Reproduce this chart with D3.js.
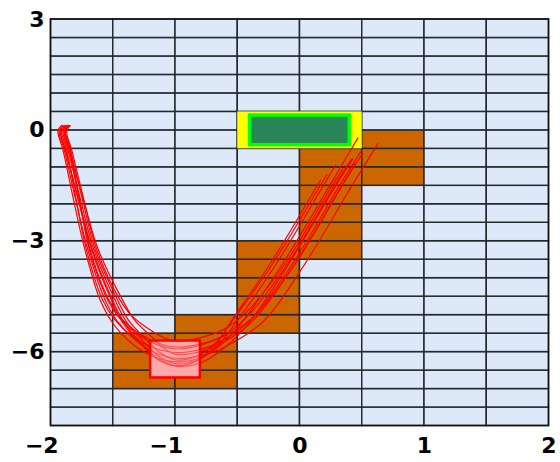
<!DOCTYPE html>
<html>
<head>
<meta charset="utf-8">
<script src="https://cdn.jsdelivr.net/npm/d3@7"></script>
<style>
  html, body { margin: 0; padding: 0; background: #ffffff; }
  svg { display: block; }
</style>
</head>
<body>
<script>
// ---- data ----
const xTicks = [-2, -1, 0, 1, 2];
const yTicks = [3, 0, -3, -6];
const xDomain = [-2, 2];
const yDomain = [-8, 3];
const cellSize = 0.5;
// lower-left corners of obstacle cells
const obstacleCells = [
  [0.5, -0.5], [0.5, -1], [0.5, -1.5],
  [0, -1], [0, -1.5], [0, -2], [0, -2.5], [0, -3], [0, -3.5],
  [-0.5, -3.5], [-0.5, -4], [-0.5, -4.5], [-0.5, -5], [-0.5, -5.5],
  [-1, -5.5], [-1, -6], [-1, -6.5], [-1, -7],
  [-1.5, -6], [-1.5, -6.5], [-1.5, -7]
];
// regions: [x0, x1, y0, y1]
const startZone = [-0.5, 0.5, -0.5, 0.5];
const startBox = [-0.4, 0.4, -0.4, 0.4];
const goalBox = [-1.2, -0.8, -6.7, -5.7];

const trajectories = [
  [[-1.908,0.13],[-1.940,-0.03],[-1.900,-0.54],[-1.815,-1.89],[-1.723,-3.25],[-1.602,-4.60],[-1.506,-5.20],[-1.361,-5.74],[-1.185,-6.12],[-0.984,-6.28],[-0.799,-6.17],[-0.623,-5.79],[-0.462,-5.20],[-0.141,-3.65],[0.245,-1.49],[0.47,-0.21]],
  [[-1.898,0.12],[-1.930,-0.04],[-1.890,-0.54],[-1.798,-1.89],[-1.699,-3.25],[-1.562,-4.60],[-1.466,-5.17],[-1.321,-5.68],[-1.161,-6.03],[-0.984,-6.18],[-0.745,-6.07],[-0.515,-5.72],[-0.282,-5.16],[0.039,-3.65],[0.425,-1.49],[0.633,-0.36]],
  [[-1.888,0.13],[-1.920,-0.03],[-1.880,-0.54],[-1.778,-1.89],[-1.669,-3.25],[-1.512,-4.60],[-1.416,-5.24],[-1.271,-5.81],[-1.131,-6.23],[-0.984,-6.40],[-0.784,-6.29],[-0.593,-5.87],[-0.412,-5.25],[-0.091,-3.65],[0.295,-1.49],[0.43,-0.78]],
  [[-1.878,0.12],[-1.910,-0.04],[-1.870,-0.54],[-1.794,-1.89],[-1.711,-3.25],[-1.582,-4.60],[-1.486,-5.125],[-1.341,-5.59],[-1.173,-5.895],[-0.984,-6.03],[-0.775,-5.92],[-0.575,-5.615],[-0.382,-5.10],[-0.061,-3.65],[0.325,-1.49],[0.50,-0.55]],
  [[-1.868,0.13],[-1.900,-0.03],[-1.860,-0.54],[-1.759,-1.89],[-1.651,-3.25],[-1.482,-4.60],[-1.386,-5.215],[-1.241,-5.77],[-1.113,-6.165],[-0.984,-6.33],[-0.814,-6.22],[-0.653,-5.825],[-0.512,-5.22],[-0.191,-3.65],[0.195,-1.49],[0.29,-0.95]],
  [[-1.858,0.12],[-1.890,-0.04],[-1.850,-0.54],[-1.769,-1.89],[-1.681,-3.25],[-1.532,-4.60],[-1.436,-5.08],[-1.291,-5.50],[-1.143,-5.76],[-0.984,-5.88],[-0.769,-5.77],[-0.563,-5.51],[-0.362,-5.04],[-0.041,-3.65],[0.345,-1.49],[0.45,-0.90]],
  [[-1.848,0.13],[-1.880,-0.03],[-1.840,-0.54],[-1.743,-1.89],[-1.639,-3.25],[-1.462,-4.60],[-1.366,-5.185],[-1.221,-5.71],[-1.101,-6.075],[-0.984,-6.23],[-0.823,-6.12],[-0.671,-5.755],[-0.542,-5.18],[-0.221,-3.65],[0.22,-1.20]],
  [[-1.838,0.12],[-1.870,-0.04],[-1.830,-0.54],[-1.732,-1.89],[-1.627,-3.25],[-1.442,-4.60],[-1.346,-5.035],[-1.201,-5.41],[-1.089,-5.625],[-0.984,-5.73],[-0.793,-5.62],[-0.611,-5.405],[-0.442,-4.98],[-0.121,-3.65],[0.265,-1.49],[0.35,-1.05]],
  [[-1.888,0.12],[-1.920,-0.04],[-1.880,-0.54],[-1.775,-1.89],[-1.663,-3.25],[-1.502,-4.60],[-1.406,-5.23],[-1.261,-5.80],[-1.125,-6.21],[-0.984,-6.38],[-0.829,-6.26],[-0.683,-5.86],[-0.562,-5.24],[-0.241,-3.65],[0.17,-1.35]],
  [[-1.858,0.13],[-1.890,-0.03],[-1.850,-0.54],[-1.736,-1.89],[-1.615,-3.25],[-1.422,-4.60],[-1.326,-5.14],[-1.181,-5.62],[-1.077,-5.94],[-0.984,-6.08],[-0.769,-5.97],[-0.563,-5.65],[-0.362,-5.12],[-0.041,-3.65],[0.345,-1.49],[0.51,-0.62]],
  [[-1.848,0.12],[-1.880,-0.04],[-1.840,-0.54],[-1.767,-1.89],[-1.687,-3.25],[-1.542,-4.60],[-1.446,-5.095],[-1.301,-5.53],[-1.149,-5.805],[-0.984,-5.93],[-0.787,-5.82],[-0.599,-5.545],[-0.422,-5.06],[-0.101,-3.65],[0.285,-1.49],[0.42,-0.78]]
];

// ---- layout ----
const W = 560, H = 462;
const margin = { left: 50.5, right: 11.5, top: 19, bottom: 36.5 };

const svg = d3.select("body").append("svg")
  .attr("width", W).attr("height", H);

const x = d3.scaleLinear().domain(xDomain).range([margin.left, W - margin.right]);
const y = d3.scaleLinear().domain(yDomain).range([H - margin.bottom, margin.top]);

const g = svg.append("g");

// background grid cells
const xs = d3.range(xDomain[0], xDomain[1], cellSize);
const ys = d3.range(yDomain[0], yDomain[1], cellSize);
const cells = [];
xs.forEach(cx => ys.forEach(cy => cells.push([cx, cy])));

const obstacleKey = new Set(obstacleCells.map(d => d[0] + "," + d[1]));

g.append("g").selectAll("rect").data(cells).join("rect")
  .attr("x", d => x(d[0]))
  .attr("y", d => y(d[1] + cellSize))
  .attr("width", d => x(d[0] + cellSize) - x(d[0]))
  .attr("height", d => y(d[1]) - y(d[1] + cellSize))
  .attr("fill", d => obstacleKey.has(d[0] + "," + d[1]) ? "#cc6600" : "#dde9f9")
  .attr("stroke", "#262a2e")
  .attr("stroke-width", 1.5);

// start zone (yellow) and start box (green)
function rectFrom(sel, r) {
  return sel.append("rect")
    .attr("x", x(r[0])).attr("y", y(r[3]))
    .attr("width", x(r[1]) - x(r[0]))
    .attr("height", y(r[2]) - y(r[3]));
}
rectFrom(g, startZone).attr("fill", "#ffff00");
rectFrom(g, startBox).attr("fill", "#2a8558").attr("stroke", "#00ff00").attr("stroke-width", 3.5);

// goal box base
rectFrom(g, goalBox).attr("fill", "#ffa2a2");

// trajectories
const line = d3.line()
  .x(d => x(d[0])).y(d => y(d[1]))
  .curve(d3.curveCatmullRom.alpha(0.5));

g.append("g").selectAll("path").data(trajectories).join("path")
  .attr("d", line)
  .attr("fill", "none")
  .attr("stroke", "#ff0000")
  .attr("stroke-width", 1.2);

// goal box overlay
rectFrom(g, goalBox).attr("fill", "#ffb4b4").attr("fill-opacity", 0.45)
  .attr("stroke", "#ff0000").attr("stroke-width", 2.5);

// frame
g.append("rect")
  .attr("x", x(xDomain[0])).attr("y", y(yDomain[1]))
  .attr("width", x(xDomain[1]) - x(xDomain[0]))
  .attr("height", y(yDomain[0]) - y(yDomain[1]))
  .attr("fill", "none").attr("stroke", "#111").attr("stroke-width", 1.5);

// axes (labels only)
const fmt = d => d < 0 ? "\u2212" + Math.abs(d) : String(d);
const xAxis = d3.axisBottom(x).tickValues(xTicks).tickFormat(fmt).tickSize(0).tickPadding(12);
const yAxis = d3.axisLeft(y).tickValues(yTicks).tickFormat(fmt).tickSize(0).tickPadding(6);

const gx = svg.append("g").attr("transform", `translate(0,${H - margin.bottom})`).call(xAxis);
const gy = svg.append("g").attr("transform", `translate(${margin.left},0)`).call(yAxis);
[gx, gy].forEach(a => {
  a.select(".domain").remove();
  a.selectAll("text")
    .attr("font-family", "DejaVu Sans, sans-serif")
    .attr("font-weight", "bold")
    .attr("font-size", 22)
    .attr("fill", "#000");
});
// center the digits (not the minus sign) under the x ticks
gx.selectAll("text").each(function(d) {
  if (d < 0) {
    const mw = this.getSubStringLength(0, 1);
    d3.select(this).attr("dx", -mw / 2);
  }
});
</script>
</body>
</html>
